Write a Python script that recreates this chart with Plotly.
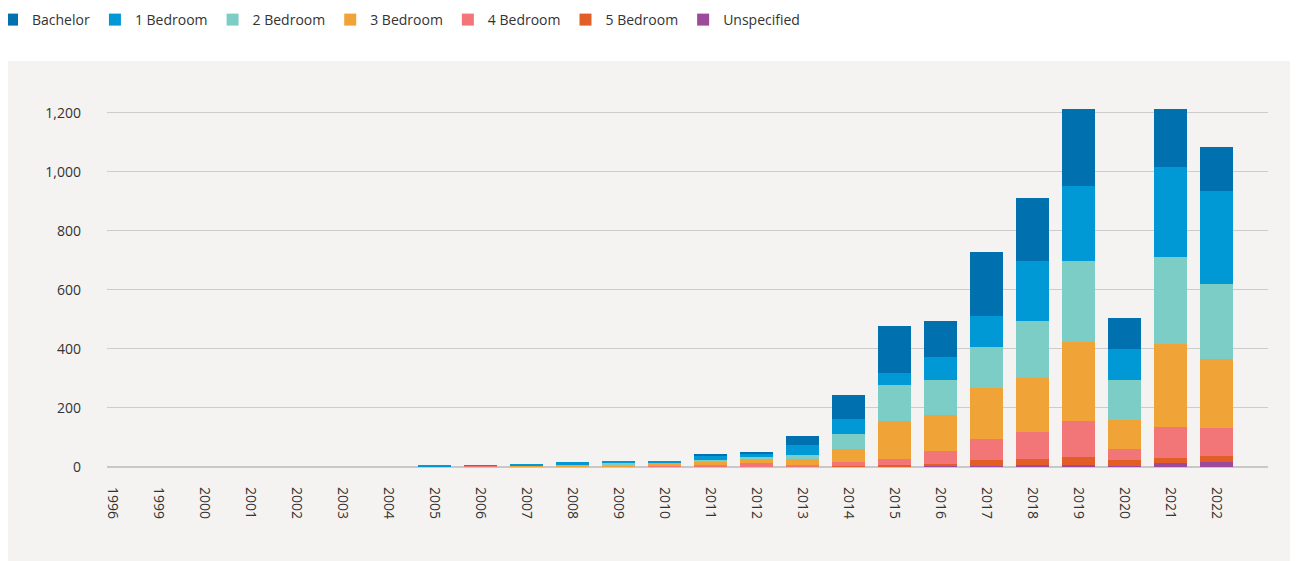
import plotly.graph_objects as go

years = ["1996", "1999"] + [str(y) for y in range(2000, 2023)]

bachelor = [0, 0, 0, 0, 0, 0, 0, 0, 0, 0, 0, 0, 0, 3, 3, 31, 81, 162, 122, 219, 213, 260, 108, 196, 149]
bed1 = [0, 0, 0, 0, 0, 0, 0, 3, 1, 3, 10, 7, 10, 17, 14, 34, 51, 40, 77, 105, 206, 253, 104, 304, 314]
bed2 = [0, 0, 0, 0, 0, 0, 0, 3, 0, 1, 1, 6, 0, 7, 7, 14, 50, 122, 118, 137, 191, 276, 134, 296, 256]
bed3 = [0, 0, 0, 0, 0, 0, 0, 0, 0, 5, 2, 3, 9, 10, 14, 20, 43, 128, 122, 173, 184, 268, 99, 281, 233]
bed4 = [0, 0, 0, 0, 0, 0, 0, 0, 4, 0, 1, 3, 3, 6, 12, 6, 15, 20, 44, 71, 91, 121, 37, 105, 95]
bed5 = [0, 0, 0, 0, 0, 0, 0, 0, 1, 0, 2, 0, 0, 0, 0, 1, 3, 7, 7, 21, 20, 27, 21, 16, 20]
unspecified = [0, 0, 0, 0, 0, 0, 0, 0, 0, 0, 0, 0, 0, 0, 0, 0, 0, 0, 3, 3, 7, 7, 3, 14, 17]

# bottom-to-top stacking order
series = [
    ("Unspecified", unspecified, "#9b4a9c"),
    ("5 Bedroom", bed5, "#e35d27"),
    ("4 Bedroom", bed4, "#f27678"),
    ("3 Bedroom", bed3, "#f0a336"),
    ("2 Bedroom", bed2, "#7ccdc6"),
    ("1 Bedroom", bed1, "#0099d6"),
    ("Bachelor", bachelor, "#0070ae"),
]

BG = "#f4f3f1"
FONT = "Open Sans, sans-serif"
TXT = "#333333"

fig = go.Figure()
for name, vals, col in series:
    fig.add_trace(go.Bar(x=years, y=vals, name=name, marker=dict(color=col, line=dict(width=0))))

W, H = 1301, 561
L, R, T, B = 99, 41, 81, 102
pw, ph = W - L - R, H - T - B

# grey panel behind the chart area (figure coords -> paper fractions)
fig.add_shape(type="rect", xref="paper", yref="paper",
              x0=(0 - L) / pw, x1=(1282 - L) / pw,
              y0=(H - B - 570) / ph, y1=(H - B - 53) / ph,
              fillcolor=BG, line=dict(width=0), layer="below")

fig.update_layout(
    width=W, height=H,
    margin=dict(l=L, r=R, t=T, b=B, pad=0, autoexpand=False),
    barmode="stack", bargap=0.283,
    paper_bgcolor="white", plot_bgcolor=BG,
    font=dict(family=FONT, size=14, color=TXT),
    showlegend=True,
    legend=dict(orientation="h", traceorder="reversed",
                xref="paper", yref="paper",
                x=(-16 - L) / pw, y=(H - B + 4) / ph,
                xanchor="left", yanchor="top",
                font=dict(family=FONT, size=14, color=TXT),
                bgcolor="rgba(0,0,0,0)"),
    xaxis=dict(type="category", range=[-0.13, 25.11], tickangle=90,
               showgrid=False, zeroline=False, showline=False,
               ticks="", ticklabelstandoff=19,
               tickfont=dict(family=FONT, size=14, color=TXT)),
    yaxis=dict(range=[0, 1280], tickvals=[0, 200, 400, 600, 800, 1000, 1200],
               tickformat=",d", showgrid=True, gridcolor="#cccccc", gridwidth=1,
               zeroline=True, zerolinecolor="#c8c8c8", zerolinewidth=2,
               showline=False, ticks="", ticklabelstandoff=25,
               tickfont=dict(family=FONT, size=14, color=TXT)),
)

fig.write_html("out.html")
